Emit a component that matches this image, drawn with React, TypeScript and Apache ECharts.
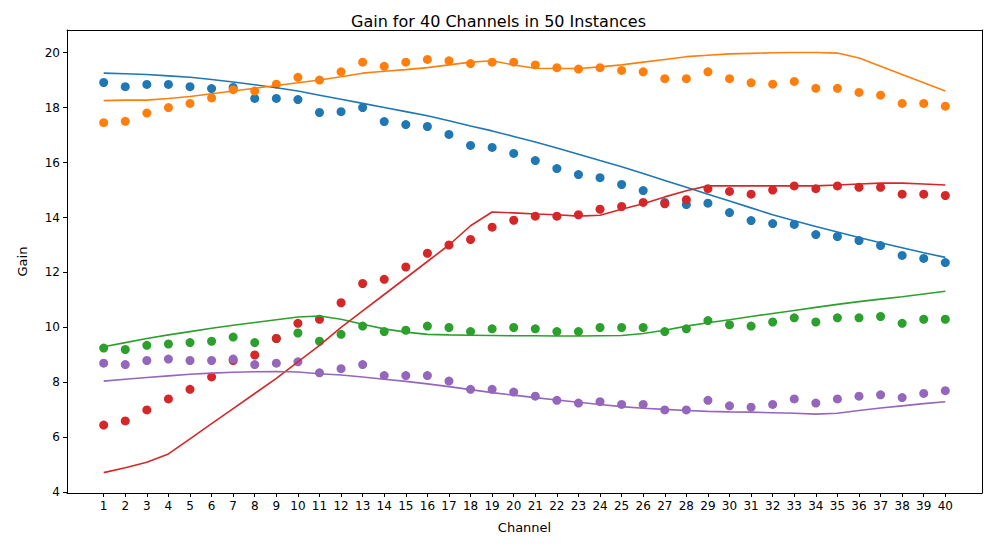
import React, { useEffect, useRef } from 'react';
import * as echarts from 'echarts';

const channels = Array.from({ length: 40 }, (_, i) => i + 1);

const blueDots = [18.91, 18.76, 18.84, 18.84, 18.76, 18.69, 18.73, 18.33, 18.33, 18.29, 17.82, 17.85, 18.0, 17.49, 17.38, 17.31, 17.02, 16.62, 16.55, 16.33, 16.07, 15.78, 15.56, 15.45, 15.2, 14.98, 14.55, 14.47, 14.52, 14.18, 13.89, 13.78, 13.75, 13.38, 13.31, 13.16, 12.98, 12.62, 12.51, 12.36];
const blueLine = [19.25, 19.23, 19.2, 19.15, 19.1, 19.02, 18.93, 18.83, 18.72, 18.6, 18.45, 18.3, 18.15, 18.0, 17.85, 17.7, 17.52, 17.33, 17.15, 16.95, 16.75, 16.53, 16.3, 16.07, 15.85, 15.6, 15.35, 15.1, 14.85, 14.6, 14.35, 14.1, 13.88, 13.67, 13.47, 13.27, 13.08, 12.9, 12.72, 12.55];
const orangeDots = [17.45, 17.5, 17.8, 18.0, 18.15, 18.35, 18.65, 18.6, 18.85, 19.1, 19.0, 19.3, 19.65, 19.5, 19.65, 19.75, 19.7, 19.6, 19.65, 19.65, 19.55, 19.45, 19.4, 19.45, 19.35, 19.3, 19.05, 19.05, 19.3, 19.05, 18.9, 18.85, 18.95, 18.7, 18.7, 18.55, 18.45, 18.15, 18.15, 18.05];
const orangeLine = [18.25, 18.27, 18.27, 18.33, 18.4, 18.5, 18.6, 18.7, 18.8, 18.9, 19.0, 19.12, 19.25, 19.32, 19.38, 19.45, 19.55, 19.65, 19.7, 19.55, 19.43, 19.42, 19.42, 19.48, 19.55, 19.65, 19.75, 19.85, 19.9, 19.95, 19.97, 19.99, 20.0, 20.0, 19.98, 19.8, 19.5, 19.2, 18.9, 18.6];
const greenDots = [9.25, 9.2, 9.35, 9.4, 9.45, 9.5, 9.65, 9.45, 9.6, 9.8, 9.5, 9.75, 10.05, 9.85, 9.9, 10.05, 10.0, 9.85, 9.95, 10.0, 9.95, 9.85, 9.85, 10.0, 10.0, 10.0, 9.85, 9.95, 10.25, 10.1, 10.05, 10.2, 10.35, 10.2, 10.35, 10.35, 10.4, 10.15, 10.3, 10.3];
const greenLine = [9.3, 9.45, 9.6, 9.73, 9.85, 9.97, 10.08, 10.18, 10.28, 10.38, 10.42, 10.3, 10.12, 9.95, 9.83, 9.75, 9.73, 9.72, 9.71, 9.7, 9.7, 9.69, 9.69, 9.7, 9.71, 9.78, 9.9, 10.05, 10.17, 10.28, 10.4, 10.51, 10.62, 10.73, 10.84, 10.94, 11.03, 11.12, 11.22, 11.32];
const redDots = [6.45, 6.6, 7.0, 7.4, 7.75, 8.2, 8.8, 9.0, 9.6, 10.15, 10.3, 10.9, 11.6, 11.75, 12.2, 12.7, 13.0, 13.2, 13.65, 13.9, 14.05, 14.05, 14.1, 14.3, 14.4, 14.55, 14.5, 14.65, 15.05, 14.95, 14.85, 15.0, 15.15, 15.05, 15.15, 15.1, 15.1, 14.85, 14.85, 14.8];
const redLine = [4.72, 4.9, 5.1, 5.4, 5.95, 6.5, 7.05, 7.6, 8.15, 8.75, 9.35, 10.0, 10.6, 11.2, 11.8, 12.4, 13.0, 13.7, 14.2, 14.17, 14.13, 14.1, 14.05, 14.08, 14.3, 14.5, 14.75, 14.97, 15.15, 15.15, 15.15, 15.15, 15.15, 15.15, 15.18, 15.22, 15.25, 15.25, 15.22, 15.18];
const purpleDots = [8.7, 8.65, 8.8, 8.85, 8.8, 8.8, 8.85, 8.65, 8.7, 8.75, 8.35, 8.5, 8.65, 8.25, 8.25, 8.25, 8.05, 7.75, 7.75, 7.65, 7.5, 7.35, 7.25, 7.3, 7.2, 7.2, 7.0, 7.0, 7.35, 7.15, 7.1, 7.2, 7.4, 7.25, 7.4, 7.5, 7.55, 7.45, 7.6, 7.7];
const purpleLine = [8.05, 8.12, 8.18, 8.24, 8.3, 8.34, 8.37, 8.39, 8.4, 8.38, 8.32, 8.27, 8.2, 8.12, 8.04, 7.95, 7.85, 7.74, 7.63, 7.54, 7.45, 7.36, 7.28, 7.2, 7.12, 7.06, 7.02, 6.98, 6.95, 6.93, 6.92, 6.9, 6.88, 6.85, 6.88, 6.98, 7.07, 7.15, 7.23, 7.3];

const yTicks = [4, 6, 8, 10, 12, 14, 16, 18, 20];

const groups = [
  { color: '#1f77b4', dots: blueDots, line: blueLine },
  { color: '#ff7f0e', dots: orangeDots, line: orangeLine },
  { color: '#2ca02c', dots: greenDots, line: greenLine },
  { color: '#d62728', dots: redDots, line: redLine },
  { color: '#9467bd', dots: purpleDots, line: purpleLine },
];

const App: React.FC = () => {
  const chartRef = useRef<HTMLDivElement>(null);

  useEffect(() => {
    if (!chartRef.current) return;
    const chart = echarts.init(chartRef.current, null, { renderer: 'svg' });
    const font = 'DejaVu Sans';

    const series: any[] = [];
    groups.forEach((g) => {
      series.push({
        type: 'line',
        data: channels.map((c, i) => [c, g.line[i]]),
        showSymbol: false,
        lineStyle: { color: g.color, width: 1.6 },
        itemStyle: { color: g.color },
      });
    });
    groups.forEach((g) => {
      series.push({
        type: 'scatter',
        data: channels.map((c, i) => [c, g.dots[i]]),
        symbolSize: 9,
        itemStyle: { color: g.color, opacity: 1 },
      });
    });

    const xMin = -0.7, xMax = 41.7, yMin = 3.98, yMax = 20.82;

    chart.setOption({
      animation: false,
      backgroundColor: '#fff',
      textStyle: { fontFamily: font },
      title: {
        text: 'Gain for 40 Channels in 50 Instances',
        left: 'center',
        top: 0,
        textStyle: { fontFamily: font, fontSize: 16, fontWeight: 'normal', color: '#000' },
      },
      grid: { left: 54, right: 7, top: 22, bottom: 46 },
      xAxis: [
        {
          type: 'value',
          min: xMin,
          max: xMax,
          name: 'Channel',
          nameLocation: 'middle',
          nameGap: 28,
          nameTextStyle: { fontFamily: font, fontSize: 13, color: '#000' },
          axisLine: { onZero: false, lineStyle: { color: '#000' } },
          axisTick: { show: true, customValues: channels, length: 4, lineStyle: { color: '#000' } },
          axisLabel: { customValues: channels, fontFamily: font, fontSize: 12, color: '#000', margin: 7 },
          splitLine: { show: false },
        },
        {
          type: 'value',
          position: 'top',
          min: xMin,
          max: xMax,
          axisLine: { onZero: false, lineStyle: { color: '#000' } },
          axisTick: { show: false },
          axisLabel: { show: false },
          splitLine: { show: false },
        },
      ],
      yAxis: [
        {
          type: 'value',
          min: yMin,
          max: yMax,
          name: 'Gain',
          nameLocation: 'middle',
          nameGap: 38,
          nameTextStyle: { fontFamily: font, fontSize: 13, color: '#000' },
          axisLine: { show: true, onZero: false, lineStyle: { color: '#000' } },
          axisTick: { show: true, customValues: yTicks, length: 4, lineStyle: { color: '#000' } },
          axisLabel: { customValues: yTicks, fontFamily: font, fontSize: 12, color: '#000', margin: 7 },
          splitLine: { show: false },
        },
        {
          type: 'value',
          position: 'right',
          min: yMin,
          max: yMax,
          axisLine: { show: true, onZero: false, lineStyle: { color: '#000' } },
          axisTick: { show: false },
          axisLabel: { show: false },
          splitLine: { show: false },
        },
      ],
      series,
    });

    return () => {
      chart.dispose();
    };
  }, []);

  return <div ref={chartRef} style={{ width: 981, height: 531 }} />;
};

export default App;
